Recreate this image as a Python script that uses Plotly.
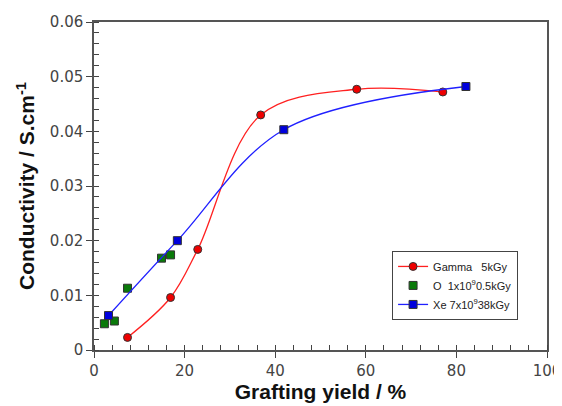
import plotly.graph_objects as go

gamma_x = [7.4, 16.9, 22.9, 36.8, 58.0, 77.0]
gamma_y = [0.0023, 0.0096, 0.0184, 0.0430, 0.0477, 0.0472]

oxy_x = [2.3, 4.5, 7.4, 14.9, 16.9]
oxy_y = [0.0048, 0.0053, 0.0113, 0.0168, 0.0174]

xe_x = [3.2, 18.4, 41.9, 82.1]
xe_y = [0.0063, 0.0200, 0.0403, 0.0482]

fig = go.Figure()
fig.add_trace(go.Scatter(
    x=gamma_x, y=gamma_y, mode="lines+markers",
    name="Gamma\u00a0\u00a0\u00a05kGy",
    line=dict(color="#ff2020", width=1.3, shape="spline", smoothing=1.0),
    marker=dict(symbol="circle", size=8, color="#ee0000", line=dict(color="#333333", width=1))))
fig.add_trace(go.Scatter(
    x=oxy_x, y=oxy_y, mode="markers",
    name="O\u00a0\u00a01x10<sup>9</sup>0.5kGy",
    marker=dict(symbol="square", size=8, color="#0a7a0a", line=dict(color="#333333", width=1))))
fig.add_trace(go.Scatter(
    x=xe_x, y=xe_y, mode="lines+markers",
    name="Xe 7x10<sup>9</sup>38kGy",
    line=dict(color="#2020ff", width=1.3, shape="spline", smoothing=1.0),
    marker=dict(symbol="square", size=8, color="#0000dd", line=dict(color="#333333", width=1))))

axis_common = dict(showgrid=False, zeroline=False, showline=True, linecolor="#555555",
                   linewidth=1.5, mirror=True, ticks="outside", ticklen=6, tickcolor="#444444",
                   automargin=False,
                   tickfont=dict(family="DejaVu Sans", size=15, color="#444444"))

fig.update_xaxes(range=[0, 100], dtick=20, tickformat="~g",
                 title=dict(text="<b>Grafting yield / %</b>",
                 font=dict(family="Liberation Sans", size=21, color="#111111"), standoff=6),
                 minor=dict(dtick=4, ticks="inside", ticklen=5, tickcolor="#444444"),
                 **axis_common)
fig.update_yaxes(range=[0, 0.06], dtick=0.01, tickformat="~g",
                 title=dict(text="<b>Conductivity / S.cm<sup>-1</sup></b>",
                 font=dict(family="Liberation Sans", size=21, color="#111111"), standoff=9),
                 minor=dict(dtick=0.002, ticks="inside", ticklen=5, tickcolor="#444444"),
                 **axis_common)

fig.update_layout(
    width=554, height=398,
    margin=dict(l=86, r=15, t=14, b=56, autoexpand=False),
    plot_bgcolor="white", paper_bgcolor="white",
    legend=dict(x=0.658, y=0.302, xanchor="left", yanchor="top",
                bordercolor="#444444", borderwidth=1, bgcolor="white",
                font=dict(family="Liberation Sans", size=11, color="#222222"),
                tracegroupgap=0, itemwidth=30),
)
fig.write_html("out.html")
